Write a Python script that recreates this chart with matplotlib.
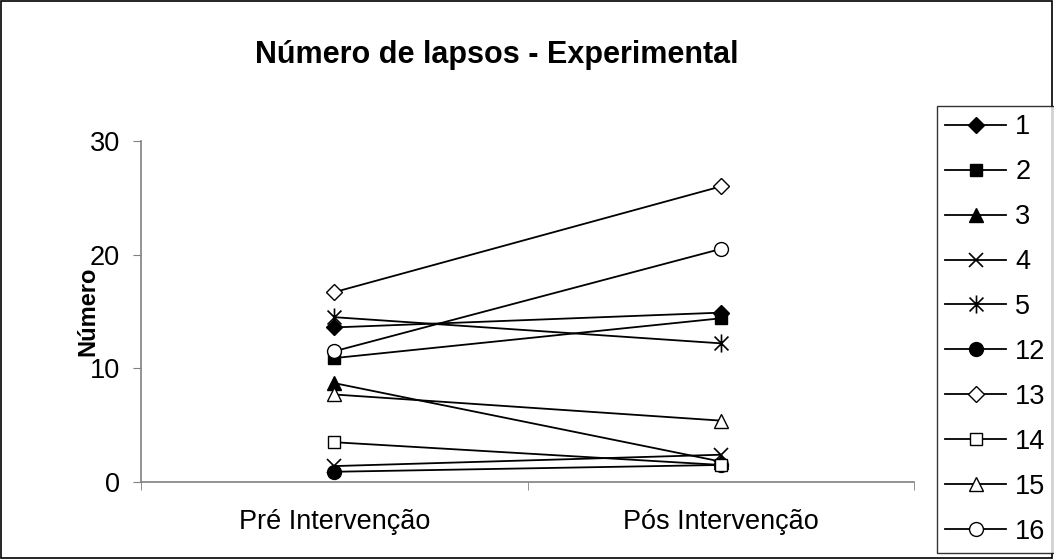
import matplotlib
matplotlib.use("Agg")
import matplotlib.pyplot as plt
from matplotlib.path import Path
from matplotlib.patches import Rectangle

plt.rcParams['font.family'] = ['Liberation Sans', 'DejaVu Sans']

# Data: number of lapses per participant, before and after the intervention
categories = ["Pré Intervenção", "Pós Intervenção"]
participants = ["1", "2", "3", "4", "5", "12", "13", "14", "15", "16"]
pre_values = [13.6, 10.9, 8.7, 1.4, 14.5, 0.9, 16.7, 3.5, 7.7, 11.5]
post_values = [14.9, 14.4, 1.8, 2.4, 12.2, 1.5, 26.0, 1.5, 5.4, 20.5]

# Excel-style asterisk: an X plus a vertical stroke
star_path = Path(
    [(-0.5, -0.5), (0.5, 0.5), (-0.5, 0.5), (0.5, -0.5), (0, -0.65), (0, 0.65)],
    [Path.MOVETO, Path.LINETO, Path.MOVETO, Path.LINETO, Path.MOVETO, Path.LINETO],
)

styles = [
    dict(marker="D", ms=8.5, mfc="black"),
    dict(marker="s", ms=9, mfc="black"),
    dict(marker="^", ms=10, mfc="black"),
    dict(marker="x", ms=10, mfc="black", mew=1.2),
    dict(marker=star_path, ms=13, mfc="black", mew=1.2),
    dict(marker="o", ms=10, mfc="black"),
    dict(marker="D", ms=8.5, mfc="white"),
    dict(marker="s", ms=9, mfc="white"),
    dict(marker="^", ms=10, mfc="white"),
    dict(marker="o", ms=10, mfc="white"),
]

fig = plt.figure(figsize=(10.54, 5.59), dpi=100)
ax = fig.add_axes([141 / 1054, 1 - 482 / 559, (914 - 141) / 1054, (482 - 141) / 559])

x = list(range(len(categories)))
for name, pre, post, st in zip(participants, pre_values, post_values, styles):
    ax.plot(x, [pre, post], color="black", lw=1.3, mec="black", label=name,
            clip_on=False, **st)

ax.set_xlim(-0.5, 1.5)
ax.set_ylim(0, 30)
ax.set_yticks([0, 10, 20, 30])
ax.set_xticks(x)
ax.set_xticklabels(categories, fontsize=19.5)
ax.set_xticks([-0.5, 0.5, 1.5], minor=True)
ax.tick_params(axis="x", which="major", length=0, pad=19.5)
ax.tick_params(axis="x", which="minor", length=6, color="#808080", direction="out")
ax.tick_params(axis="y", length=6, color="#808080", direction="out", labelsize=19.5, pad=9)

for side in ("top", "right"):
    ax.spines[side].set_visible(False)
for side in ("left", "bottom"):
    ax.spines[side].set_color("#808080")
    ax.spines[side].set_linewidth(1.2)

ax.set_ylabel("Número", fontsize=17, fontweight="bold")
ax.yaxis.set_label_coords(-0.054, 0.5)

fig.text(497 / 1054, 1 - 55 / 559, "Número de lapsos - Experimental",
         ha="center", va="center", fontsize=22, fontweight="bold")

leg = fig.legend(loc="upper left", bbox_to_anchor=(937 / 1054, 1 - 106 / 559),
                 bbox_transform=fig.transFigure, borderaxespad=0,
                 fontsize=19.5, frameon=True, fancybox=False, edgecolor="black",
                 handlelength=2.26, handletextpad=0.33, labelspacing=0.7,
                 borderpad=0.3)
leg.get_frame().set_linewidth(1.0)

# Outer chart border
fig.patches.append(Rectangle((0.001, 0.001), 0.997, 0.997, transform=fig.transFigure,
                             fill=False, edgecolor="black", lw=1.2))

fig.savefig("out.png", dpi=100)
